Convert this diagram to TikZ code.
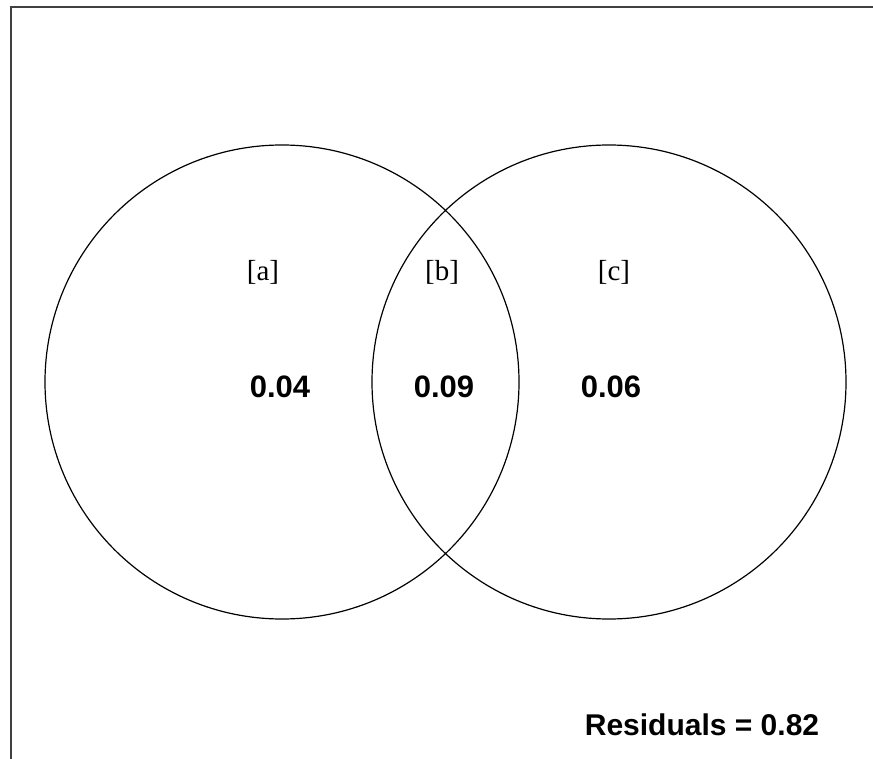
\documentclass[tikz,border=0pt]{standalone}
\usepackage{fontspec}
\setmainfont{Liberation Serif}
\newfontfamily\numfont{Liberation Sans}
\begin{document}
\begin{tikzpicture}[x=0.5pt,y=-0.5pt,
  venn/.style={draw=black,line width=0.6pt},
  setlabel/.style={anchor=base,inner sep=0pt,font=\fontsize{14.5}{16}\selectfont},
  value/.style={anchor=base,inner sep=0pt,font=\numfont\bfseries\fontsize{15.5}{17}\selectfont},
  resid/.style={anchor=base,inner sep=0pt,font=\numfont\bfseries\fontsize{15}{18}\selectfont}]
\useasboundingbox (0,0) rectangle (873,759);
\fill[white] (0,0) rectangle (873,759);
\draw[line width=1pt,draw=black!75] (11,800) -- (11,7) -- (900,7);
\node[venn,circle,minimum size=237pt,inner sep=0pt] (A) at (282,382) {};
\node[venn,circle,minimum size=237pt,inner sep=0pt] (C) at (609,382) {};
\node[setlabel] (la) at (263,281) {[a]};
\node[setlabel] (lb) at (442,281) {[b]};
\node[setlabel] (lc) at (614,281) {[c]};
\node[value] (va) at (280,397) {0.04};
\node[value] (vb) at (444,397) {0.09};
\node[value] (vc) at (611,397) {0.06};
\node[resid] (res) at (702,735) {Residuals = 0.82};
\end{tikzpicture}
\end{document}
